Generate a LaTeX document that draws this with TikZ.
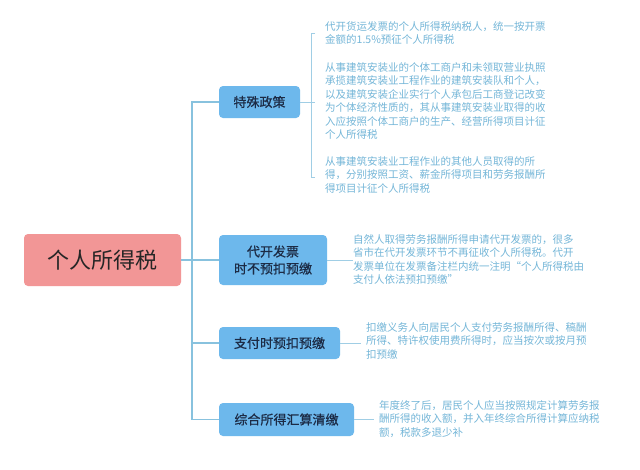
\documentclass[tikz,border=0pt]{standalone}
\usepackage{fontspec}
\setmainfont{Noto Sans CJK SC}
\newfontfamily\cjkmed{Noto Sans CJK SC}[FakeBold=0.6]
\definecolor{rootfill}{HTML}{F29696}
\definecolor{childfill}{HTML}{6DB8EC}
\definecolor{linec}{HTML}{88C2DE}
\definecolor{desc}{HTML}{74B6D8}
\definecolor{navy}{HTML}{1C2B45}
\begin{document}
\begin{tikzpicture}[x=1pt,y=-1pt,
  rootbox/.style={draw=none,fill=rootfill,rounded corners=4pt,inner sep=0pt,font=\fontsize{22}{26}\selectfont,text=black!85},
  childbox/.style={draw=none,fill=childfill,rounded corners=4pt,inner sep=0pt,font=\fontsize{13}{18}\cjkmed\selectfont,text=navy,align=center},
  desctext/.style={anchor=north west,inner sep=0pt,align=left,text=desc,font=\fontsize{10.5}{13.5}\selectfont},
  conn/.style={draw=linec,line width=1.1pt},
  thin/.style={draw=linec!80,line width=0.6pt}]
\useasboundingbox (0,0) rectangle (640,469);
\fill[white] (0,0) rectangle (640,469);
% root
\node[rootbox,minimum width=157pt,minimum height=52pt] (root) at (102.5,260) {个人所得税};
% children
\node[childbox,minimum width=81pt,minimum height=32pt] (c1) at (259.5,102) {特殊政策};
\node[childbox,minimum width=108pt,minimum height=50pt] (c2) at (273,260) {代开发票\\[-1pt]时不预扣预缴};
\node[childbox,minimum width=121pt,minimum height=32pt] (c3) at (279.5,343) {支付时预扣预缴};
\node[childbox,minimum width=135pt,minimum height=33pt] (c4) at (286.5,419.5) {综合所得汇算清缴};
% trunk
\coordinate (tr) at (192,260);
\draw[conn] (root.east) -- (tr);
\draw[conn] (c1.west) -- (192,102) -- (192,419.5) -- (c4.west);
\draw[conn] (tr) -- (c2.west);
\draw[conn] (192,343) -- (c3.west);
% descriptions
\node[desctext] (d1) at (325,21) {代开货运发票的个人所得税纳税人，统一按开票\\金额的1.5\%预征个人所得税};
\node[desctext] (d2) at (325,62) {从事建筑安装业的个体工商户和未领取营业执照\\承揽建筑安装业工程作业的建筑安装队和个人，\\以及建筑安装企业实行个人承包后工商登记改变\\为个体经济性质的，其从事建筑安装业取得的收\\入应按照个体工商户的生产、经营所得项目计征\\个人所得税};
\node[desctext] (d3) at (325,156) {从事建筑安装业工程作业的其他人员取得的所\\得，分别按照工资、薪金所得项目和劳务报酬所\\得项目计征个人所得税};
\node[desctext] (d4) at (353,234) {自然人取得劳务报酬所得申请代开发票的，很多\\省市在代开发票环节不再征收个人所得税。代开\\发票单位在发票备注栏内统一注明“个人所得税由\\支付人依法预扣预缴”};
\node[desctext] (d5) at (366,322) {扣缴义务人向居民个人支付劳务报酬所得、稿酬\\所得、特许权使用费所得时，应当按次或按月预\\扣预缴};
\node[desctext] (d6) at (379,400) {年度终了后，居民个人应当按照规定计算劳务报\\酬所得的收入额，并入年终综合所得计算应纳税\\额，税款多退少补};
% bracket for c1
\coordinate (b1) at (311,102);
\draw[thin] (c1.east) -- (b1);
\draw[thin] (315,33) -- (311,33) -- (311,177) -- (315,177);
\draw[thin] (b1) -- (315,102);
% other connectors
\draw[thin] (c2.east) -- (d4.west |- c2.east);
\draw[thin] (c3.east) -- ([xshift=-5pt]d5.west |- c3.east);
\draw[thin] (c4.east) -- ([xshift=-5pt]d6.west |- c4.east);
\end{tikzpicture}
\end{document}
